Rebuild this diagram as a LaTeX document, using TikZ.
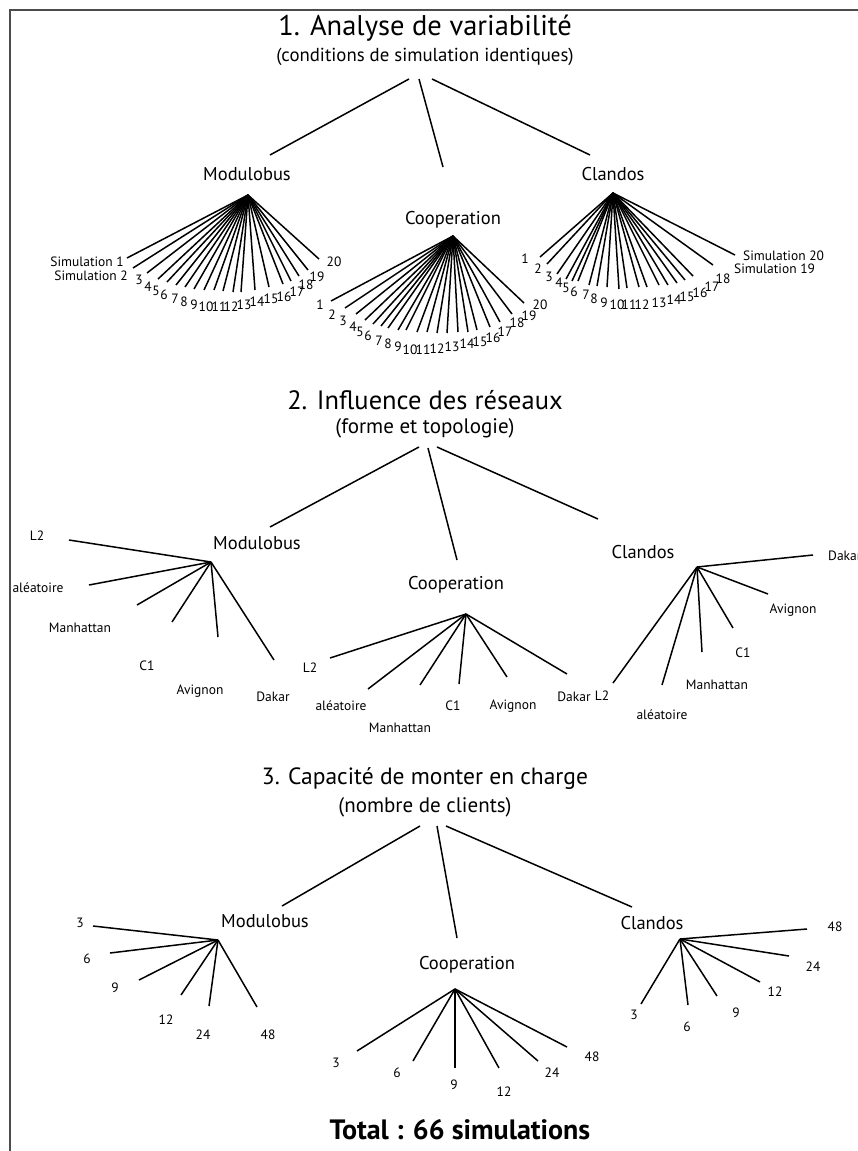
\documentclass[tikz,border=0pt]{standalone}
\usepackage{fontspec}
\setmainfont{PT Sans}
\begin{document}
\begin{tikzpicture}[x=1pt,y=-1pt,
  ln/.style={line width=1.5pt,black},
  frame/.style={line width=1.4pt,black!70},
  ttla/.style={font=\fontsize{28.5}{32}\selectfont,inner sep=0pt},
  ttlb/.style={font=\fontsize{26.5}{30}\selectfont,inner sep=0pt},
  ttlc/.style={font=\fontsize{23.5}{27}\selectfont,inner sep=0pt},
  suba/.style={font=\fontsize{18.8}{22}\selectfont,inner sep=0pt},
  subb/.style={font=\fontsize{21}{24}\selectfont,inner sep=0pt},
  grp/.style={font=\fontsize{18.5}{21}\selectfont,inner sep=0pt},
  num/.style={font=\fontsize{13.5}{16}\selectfont,inner sep=0pt},
  small/.style={font=\fontsize{13.5}{15}\selectfont,inner sep=0pt},
  tot/.style={font=\bfseries\fontsize{28}{32}\selectfont,inner sep=0pt}]
\useasboundingbox (0,0) rectangle (858,1151);
\fill[white] (0,0) rectangle (858,1151);
% frame
\coordinate (fa) at (10,1151);
\coordinate (fb) at (10,10);
\coordinate (fc) at (858,10);
\draw[frame] (fa) -- (fb) -- (fc);

% ================= Section 1 =================
\node[ttla] (t1) at (425,28) {1. Analyse de variabilité};
\node[suba] (s1) at (425,57) {(conditions de simulation identiques)};
\coordinate (r1a) at (409,79);
\coordinate (r1b) at (419,79);
\coordinate (r1c) at (432,79);
\coordinate (r1ae) at (270,155);
\coordinate (r1be) at (443,167);
\coordinate (r1ce) at (590,155);
\draw[ln] (r1a) -- (r1ae);
\draw[ln] (r1b) -- (r1be);
\draw[ln] (r1c) -- (r1ce);
\node[grp] (g1m) at (247,174) {Modulobus};
\node[grp] (g1c) at (453,220) {Cooperation};
\node[grp] (g1k) at (613,174) {Clandos};
\coordinate (h1m) at (248,195);
\coordinate (h1c) at (453,236);
\coordinate (h1k) at (613,193);

% Modulobus fan
\foreach \i/\ex/\ey in {1/127/258,2/133/268,3/147/273,4/158/279,5/167/282,6/176/285,7/185/287,8/194/289,9/204/290,10/214/290,11/223/291,12/233/292,13/241/292,14/255/290,15/269/287,16/283/284,17/291/281,18/299/276,19/308/270,20/319/259}{
  \coordinate (m1e\i) at (\ex,\ey);
  \draw[ln] (h1m) -- (m1e\i);
}
\node[num,anchor=east] (m1l1) at (124,262) {Simulation 1};
\node[num,anchor=east] (m1l2) at (128,276) {Simulation 2};
\foreach \i/\lx/\ly in {3/139/280,4/148/287,5/156/291,6/164/295,7/175/299,8/184/302,9/194/305,10/206/307,11/219/307,12/231/307,13/244/305,14/257/302,15/271/299,16/284/297,17/297/292,18/306/285,19/317/277,20/334/262}{
  \node[num] (m1l\i) at (\lx,\ly) {\i};
}

% Cooperation fan
\foreach \i/\ex/\ey/\lx/\ly in {1/331/301/320/305,2/345/308/332/315,3/356/314/343/321,4/365/320/353/327,5/373/324/360/332,6/381/326/368/336,7/388/328/379/341,8/398/330/388/344,9/406/330/398/347,10/417/332/410/350,11/427/332/423/350,12/437/333/437/349,13/447/333/452/347,14/458/332/467/344,15/468/332/480/342,16/477/330/493/338,17/490/327/505/332,18/500/322/517/323,19/512/314/529/316,20/524/303/540/305}{
  \coordinate (c1e\i) at (\ex,\ey);
  \draw[ln] (h1c) -- (c1e\i);
  \node[num] (c1l\i) at (\lx,\ly) {\i};
}

% Clandos fan
\foreach \i/\ex/\ey in {1/540/257,2/547/264,3/557/274,4/566/279,5/572/281,6/578/281,7/589/285,8/597/286,9/607/287,10/619/289,11/627/288,12/639/287,13/647/287,14/659/285,15/668/285,16/677/283,17/685/280,18/693/276,19/713/265,20/735/255}{
  \coordinate (k1e\i) at (\ex,\ey);
  \draw[ln] (h1k) -- (k1e\i);
}
\foreach \i/\lx/\ly in {1/525/259,2/538/269,3/549/277,4/559/283,5/566/288,6/574/292,7/586/295,8/594/299,9/604/303,10/617/305,11/629/305,12/642/305,13/659/303,14/674/300,15/687/297,16/700/293,17/712/287,18/723/279}{
  \node[num] (k1l\i) at (\lx,\ly) {\i};
}
\node[num,anchor=west] (k1l19) at (734,269) {Simulation 19};
\node[num,anchor=west] (k1l20) at (743,256) {Simulation 20};

% ================= Section 2 =================
\node[ttlb] (t2) at (425,400) {2. Influence des réseaux};
\node[subb] (s2) at (425,428) {(forme et topologie)};
\coordinate (r2a) at (419,447);
\coordinate (r2b) at (428,448);
\coordinate (r2c) at (437,447);
\coordinate (r2ae) at (270,527);
\coordinate (r2be) at (457,560);
\coordinate (r2ce) at (598,519);
\draw[ln] (r2a) -- (r2ae);
\draw[ln] (r2b) -- (r2be);
\draw[ln] (r2c) -- (r2ce);
\node[grp] (g2m) at (257,543) {Modulobus};
\node[grp] (g2c) at (456,585) {Cooperation};
\node[grp] (g2k) at (643,552) {Clandos};
\coordinate (h2m) at (211,562);
\coordinate (h2c) at (466,614);
\coordinate (h2k) at (697,567);

\foreach \n/\ex/\ey/\lx/\ly/\t in {1/69/540/37/536/L2,2/89/585/38/588/aléatoire,3/137/605/80/628/Manhattan,4/172/622/147/666/C1,5/218/637/200/691/Avignon,6/274/660/273/697/Dakar}{
  \coordinate (m2e\n) at (\ex,\ey);
  \draw[ln] (h2m) -- (m2e\n);
  \node[small] (m2l\n) at (\lx,\ly) {\t};
}
\foreach \n/\ex/\ey/\lx/\ly/\t in {1/330/658/310/668/L2,2/368/689/341/706/aléatoire,3/420/685/400/728/Manhattan,4/459/684/453/706/C1,5/507/677/513/706/Avignon,6/567/674/574/697/Dakar}{
  \coordinate (c2e\n) at (\ex,\ey);
  \draw[ln] (h2c) -- (c2e\n);
  \node[small] (c2l\n) at (\lx,\ly) {\t};
}
\foreach \n/\ex/\ey/\lx/\ly/\t in {1/613/683/602/696/L2,2/662/685/662/715/aléatoire,3/702/652/717/685/Manhattan,4/733/628/743/653/C1,5/768/594/793/610/Avignon}{
  \coordinate (k2e\n) at (\ex,\ey);
  \draw[ln] (h2k) -- (k2e\n);
  \node[small] (k2l\n) at (\lx,\ly) {\t};
}
\coordinate (k2e6) at (813,555);
\draw[ln] (h2k) -- (k2e6);
\node[small,anchor=west] (k2l6) at (828,556) {Dakar};

% ================= Section 3 =================
\node[ttlc] (t3) at (425,779) {3. Capacité de monter en charge};
\node[subb] (s3) at (425,807) {(nombre de clients)};
\coordinate (r3a) at (420,826);
\coordinate (r3b) at (437,826);
\coordinate (r3c) at (446,826);
\coordinate (r3ae) at (282,906);
\coordinate (r3be) at (457,938);
\coordinate (r3ce) at (632,907);
\draw[ln] (r3a) -- (r3ae);
\draw[ln] (r3b) -- (r3be);
\draw[ln] (r3c) -- (r3ce);
\node[grp] (g3m) at (265,921) {Modulobus};
\node[grp] (g3c) at (467,965) {Cooperation};
\node[grp] (g3k) at (652,923) {Clandos};
\coordinate (h3m) at (218,940);
\coordinate (h3c) at (455,989);
\coordinate (h3k) at (680,939);

\foreach \n/\ex/\ey/\lx/\ly/\t in {1/93/926/80/923/3,2/110/953/87/959/6,3/139/980/115/988/9,4/181/995/166/1020/12,5/209/1006/203/1035/24,6/257/1007/268/1035/48}{
  \coordinate (m3e\n) at (\ex,\ey);
  \draw[ln] (h3m) -- (m3e\n);
  \node[small] (m3l\n) at (\lx,\ly) {\t};
}
\foreach \n/\ex/\ey/\lx/\ly/\t in {1/357/1051/336/1063/3,2/413/1061/397/1073/6,3/455/1068/454/1085/9,4/499/1068/504/1092/12,5/538/1061/552/1073/24,6/567/1047/592/1057/48}{
  \coordinate (c3e\n) at (\ex,\ey);
  \draw[ln] (h3c) -- (c3e\n);
  \node[small] (c3l\n) at (\lx,\ly) {\t};
}
\foreach \n/\ex/\ey/\lx/\ly/\t in {1/641/1004/634/1015/3,2/688/1005/687/1027/6,3/717/996/736/1013/9,4/760/982/775/992/12,5/789/956/813/967/24,6/807/929/835/927/48}{
  \coordinate (k3e\n) at (\ex,\ey);
  \draw[ln] (h3k) -- (k3e\n);
  \node[small] (k3l\n) at (\lx,\ly) {\t};
}

\node[tot] (total) at (460,1130) {Total : 66 simulations};
\end{tikzpicture}
\end{document}
